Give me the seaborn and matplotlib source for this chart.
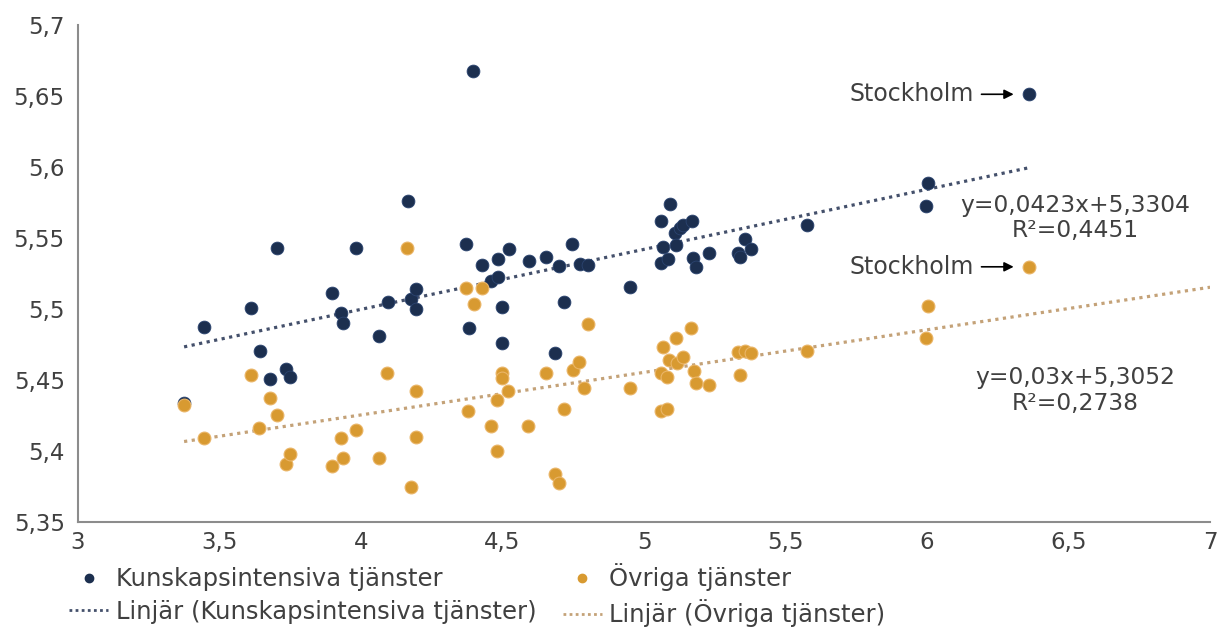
import numpy as np
import pandas as pd
import matplotlib
matplotlib.use("Agg")
import matplotlib.pyplot as plt
import seaborn as sns
from matplotlib.ticker import FuncFormatter, MultipleLocator
from matplotlib.lines import Line2D

# Values
kunskap_x = [3.375, 3.446, 3.610, 3.642, 3.680, 3.704, 3.734, 3.749, 3.899, 3.930,
             3.937, 3.982, 4.062, 4.094, 4.165, 4.177, 4.193, 4.193, 4.372, 4.380,
             4.397, 4.429, 4.461, 4.483, 4.483, 4.499, 4.499, 4.522, 4.594, 4.655,
             4.684, 4.701, 4.716, 4.747, 4.774, 4.803, 4.951, 5.060, 5.060, 5.067,
             5.085, 5.091, 5.111, 5.113, 5.127, 5.139, 5.168, 5.174, 5.184, 5.230,
             5.331, 5.339, 5.356, 5.378, 5.575, 5.995, 6.002, 6.360]
kunskap_y = [5.4335, 5.4873, 5.5007, 5.470, 5.4503, 5.543, 5.4573, 5.4517, 5.511, 5.4968,
             5.490, 5.543, 5.4808, 5.5045, 5.576, 5.507, 5.514, 5.4996, 5.546, 5.4862,
             5.6678, 5.531, 5.5195, 5.5221, 5.5353, 5.501, 5.4756, 5.5419, 5.5338, 5.5364,
             5.4688, 5.530, 5.5045, 5.546, 5.5315, 5.5308, 5.5153, 5.5618, 5.5325, 5.5437,
             5.5348, 5.5738, 5.5536, 5.545, 5.5571, 5.559, 5.5618, 5.5355, 5.5296, 5.5395,
             5.5395, 5.5362, 5.5489, 5.5419, 5.559, 5.5724, 5.5888, 5.6512]

ovriga_x = [3.375, 3.446, 3.610, 3.641, 3.680, 3.704, 3.735, 3.749, 3.899, 3.928,
            3.937, 3.984, 4.062, 4.093, 4.164, 4.177, 4.194, 4.193, 4.371, 4.379,
            4.398, 4.429, 4.459, 4.482, 4.482, 4.498, 4.498, 4.520, 4.591, 4.655,
            4.684, 4.701, 4.716, 4.748, 4.770, 4.787, 4.802, 4.951, 5.059, 5.059,
            5.066, 5.082, 5.082, 5.089, 5.114, 5.115, 5.139, 5.167, 5.177, 5.184,
            5.231, 5.333, 5.339, 5.357, 5.378, 5.575, 5.995, 6.002, 6.360]
ovriga_y = [5.432, 5.409, 5.453, 5.4157, 5.437, 5.4251, 5.3905, 5.3974, 5.3891, 5.409,
            5.3945, 5.4145, 5.3945, 5.4545, 5.543, 5.3746, 5.4094, 5.442, 5.515, 5.428,
            5.5033, 5.515, 5.4173, 5.4357, 5.400, 5.4545, 5.451, 5.4422, 5.4173, 5.4545,
            5.3835, 5.3774, 5.4292, 5.4568, 5.4627, 5.4439, 5.489, 5.4439, 5.4549, 5.4279,
            5.4732, 5.4521, 5.4291, 5.4638, 5.4796, 5.4615, 5.4657, 5.4862, 5.4561, 5.4478,
            5.4462, 5.4693, 5.4533, 5.4702, 5.4685, 5.4702, 5.4796, 5.5021, 5.5296]

# trend lines as given in the chart (slope, intercept) and x span
kunskap_trend = [0.0423, 5.3304]
ovriga_trend = [0.03, 5.3052]
kunskap_span = [3.375, 6.36]
ovriga_span = [3.375, 7.0]

labels = ["Kunskapsintensiva tjänster", "Övriga tjänster"]
eq_texts = ["y=0,0423x+5,3304\nR²=0,4451", "y=0,03x+5,3052\nR²=0,2738"]
stockholm = [(6.36, 5.6512), (6.36, 5.5296)]

blue = "#1c2f4f"
orange = "#d89a31"
blue_line = "#44506b"
orange_line = "#c4a278"

sns.set_style("white")
plt.rcParams['font.family'] = ['DejaVu Sans']

fig = plt.figure(figsize=(12.18, 6.42), dpi=100)
ax = fig.add_axes([0.064, 0.1875, 0.9295, 0.7735])

# trend lines
tk = pd.DataFrame({'x': kunskap_span})
tk['y'] = kunskap_trend[0] * tk['x'] + kunskap_trend[1]
to = pd.DataFrame({'x': ovriga_span})
to['y'] = ovriga_trend[0] * to['x'] + ovriga_trend[1]
sns.lineplot(data=tk, x='x', y='y', ax=ax, color=blue_line, lw=2.3,
             linestyle=(0, (1, 1.4)), zorder=1)
sns.lineplot(data=to, x='x', y='y', ax=ax, color=orange_line, lw=2.3,
             linestyle=(0, (1, 1.4)), zorder=1)

sns.scatterplot(x=ovriga_x, y=ovriga_y, ax=ax, color=orange, s=85,
                edgecolor="#eab567", linewidth=0.8, zorder=3)
sns.scatterplot(x=kunskap_x, y=kunskap_y, ax=ax, color=blue, s=85,
                edgecolor="#2b4470", linewidth=0.6, zorder=2)

ax.set_xlim(3, 7)
ax.set_ylim(5.35, 5.7)
ax.xaxis.set_major_locator(MultipleLocator(0.5))
ax.yaxis.set_major_locator(MultipleLocator(0.05))
fmt = FuncFormatter(lambda v, p: f"{round(v, 3):g}".replace('.', ','))
ax.xaxis.set_major_formatter(fmt)
ax.yaxis.set_major_formatter(fmt)
ax.tick_params(axis='both', length=0, labelsize=16.5, colors="#404040")
ax.tick_params(axis='x', pad=7)
ax.tick_params(axis='y', pad=9.5)
ax.set_xlabel("")
ax.set_ylabel("")

for side in ['top', 'right']:
    ax.spines[side].set_visible(False)
for side in ['left', 'bottom']:
    ax.spines[side].set_color("#8c8c8c")
    ax.spines[side].set_linewidth(1.5)

# equation labels
ax.text(6.523, 5.564, eq_texts[0], ha='center', va='center', fontsize=16.8,
        color="#404040", linespacing=1.15)
ax.text(6.523, 5.4423, eq_texts[1], ha='center', va='center', fontsize=16.8,
        color="#404040", linespacing=1.15)

# Stockholm markers
for (sx, sy) in stockholm:
    ax.annotate("Stockholm", xy=(sx, sy), xytext=(6.166, sy),
                ha='right', va='center', fontsize=17, color="#404040",
                arrowprops=dict(arrowstyle='-|>', color='black', lw=1.2,
                                shrinkA=3, shrinkB=11, mutation_scale=14))

handles = [
    Line2D([], [], marker='o', ls='', color=blue, markersize=6),
    Line2D([], [], color=blue_line, lw=2, linestyle=(0, (1, 1.2))),
    Line2D([], [], marker='o', ls='', color=orange, markersize=6),
    Line2D([], [], color=orange_line, lw=2, linestyle=(0, (1, 1.2))),
]
leg_labels = [labels[0], "Linjär (" + labels[0] + ")",
              labels[1], "Linjär (" + labels[1] + ")"]
fig.legend(handles, leg_labels, ncol=2, loc='lower left',
           bbox_to_anchor=(0.045, 0.0), frameon=False, fontsize=17.5,
           handlelength=1.6, handletextpad=0.3, columnspacing=1.1,
           labelspacing=0.33, borderpad=0.1, labelcolor="#404040")

fig.savefig("out.png", dpi=100)
